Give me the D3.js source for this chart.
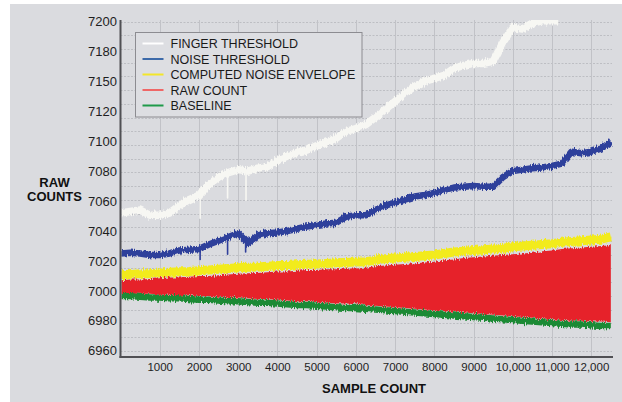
<!DOCTYPE html>
<html>
<head>
<meta charset="utf-8">
<script src="https://cdn.jsdelivr.net/npm/d3@7"></script>
<style>
  html, body { margin: 0; padding: 0; background: #ffffff; }
  svg { display: block; font-family: "Liberation Sans", Arial, Helvetica, sans-serif; }
</style>
</head>
<body>
<svg id="chart" width="622" height="402"></svg>
<script>
// ---- axis labels ----
const yTickLabels = [6960, 6980, 7000, 7020, 7040, 7060, 7080, 7100, 7120, 7150, 7180, 7200];
const xTickValues = [1000, 2000, 3000, 4000, 5000, 6000, 7000, 8000, 9000, 10000, 11000, 12000];

// ---- readings, one every 250 samples ----
const sampleGrid = d3.range(0, 12501, 250);

const fingerSamples = d3.range(0, 11001, 250).concat([11160]);
const fingerThreshold = [
  7052, 7053, 7054, 7050.5, 7050.5, 7052, 7057, 7061, 7064, 7071,
  7076, 7079, 7081, 7080, 7082, 7083, 7087, 7090, 7092.5, 7094,
  7097, 7099.5, 7102, 7106.5, 7108.5, 7111, 7116, 7122, 7130, 7138,
  7145, 7150, 7153, 7156, 7163, 7166, 7168, 7168, 7170, 7186,
  7196, 7195, 7199, 7200.5, 7200.5, 7200.5
];

const noiseThreshold = [
  7025, 7025.5, 7025, 7024, 7024, 7025, 7027, 7027.5, 7028, 7031,
  7033.5, 7036, 7038.5, 7032, 7037, 7038.5, 7039, 7040, 7041.5, 7043,
  7044, 7045, 7045.5, 7049.5, 7050.5, 7050.5, 7054, 7057, 7059, 7061,
  7063, 7064, 7065.5, 7067.5, 7069, 7069.5, 7070, 7069.5, 7069.5, 7076,
  7080, 7081, 7082, 7082.5, 7083.5, 7085, 7093, 7092, 7093, 7095,
  7099.5
];

const noiseEnvelope = [
  7011, 7011, 7011.5, 7011.5, 7012, 7012.5, 7012.8, 7013, 7013.5, 7014,
  7014.5, 7015, 7015.5, 7015.7, 7016, 7016.5, 7017, 7017, 7017.5, 7017.8,
  7018, 7018.3, 7018.7, 7019, 7019.2, 7019.5, 7020.5, 7021.5, 7022, 7022.5,
  7023, 7023.5, 7024, 7025, 7026, 7026.5, 7027, 7027.5, 7028, 7028.5,
  7029.5, 7030, 7030.5, 7031, 7031.5, 7032.5, 7033, 7033.5, 7034, 7034.5,
  7036
];

const rawCountHigh = [
  7007, 7007.5, 7007.5, 7008, 7008.5, 7009, 7009, 7009.5, 7010, 7010,
  7010.5, 7011, 7011.5, 7011.7, 7012, 7012.5, 7013, 7013, 7013.5, 7014,
  7014, 7014.5, 7014.5, 7015, 7015, 7015.5, 7016.5, 7017, 7017.5, 7018,
  7018.5, 7019, 7019.5, 7020.5, 7021, 7022, 7022.5, 7023, 7023.5, 7024,
  7024.5, 7025, 7025.5, 7026.5, 7027, 7028, 7028.5, 7029, 7029.5, 7030,
  7030.5
];

const rawCountLow = [
  6998.5, 6998.5, 6998, 6998, 6997.5, 6997.5, 6997, 6997, 6996.5, 6996.5,
  6996, 6995.5, 6995.5, 6995, 6994.5, 6994.5, 6994, 6993.5, 6993, 6993,
  6992.5, 6992, 6991.5, 6991.5, 6991, 6990.5, 6990, 6989.5, 6989, 6988.5,
  6988, 6987.5, 6987, 6986.5, 6986, 6985.5, 6985, 6984.5, 6984, 6983.5,
  6983, 6982.5, 6982, 6981.5, 6981, 6980.5, 6980, 6980, 6979.5, 6979.5,
  6979
];

const baseline = [
  6996.5, 6996.5, 6996, 6995.5, 6995.5, 6995, 6995, 6994.5, 6994, 6994,
  6993.5, 6993, 6993, 6992.5, 6992, 6992, 6991.5, 6991, 6990.5, 6990.5,
  6990, 6989.5, 6989, 6988.5, 6988.5, 6988, 6987.5, 6987, 6986.5, 6986,
  6985.5, 6985, 6984.5, 6984, 6983.5, 6983, 6982.5, 6982, 6981.5, 6981,
  6980.5, 6980, 6979.5, 6979, 6978.5, 6978, 6977.5, 6977.5, 6977, 6976.5,
  6976.5
];

// short downward spikes (touch events) on the two thresholds
const fingerDipSamples = [2030, 2730, 3200];
const fingerDipTop     = [7064, 7079, 7080];
const fingerDipLow     = [7048.5, 7062, 7060.5];
const noiseDipSamples  = [2030, 2730, 3190];
const noiseDipTop      = [7028, 7036, 7036];
const noiseDipLow      = [7021, 7024.5, 7026];

// legend
const legendNames  = ["FINGER THRESHOLD", "NOISE THRESHOLD", "COMPUTED NOISE ENVELOPE", "RAW COUNT", "BASELINE"];
const legendColors = ["#ffffff", "#3d6aa9", "#f3e62a", "#ef6767", "#1f9a4a"];

// ---- layout ----
const W = 622, H = 402;
const plot = { left: 120.5, right: 612, top: 20, bottom: 357 };
const yLabelTop = 21.5, yLabelBottom = 350.7;

const svg = d3.select("#chart");

// sample-to-sample jitter texture for the noisy traces (vertical only)
const defs = svg.append("defs");
const jitter = defs.append("filter")
  .attr("id", "jitter")
  .attr("filterUnits", "userSpaceOnUse")
  .attr("x", 0).attr("y", 0).attr("width", W).attr("height", H);
jitter.append("feTurbulence")
  .attr("type", "fractalNoise")
  .attr("baseFrequency", "0.9 0.12")
  .attr("numOctaves", 2)
  .attr("seed", 7)
  .attr("result", "noise");
jitter.append("feColorMatrix")
  .attr("in", "noise")
  .attr("type", "matrix")
  .attr("values", "0 0 0 0 0.5  0 1 0 0 0  0 0 0 0 0  0 0 0 0 1")
  .attr("result", "map");
jitter.append("feDisplacementMap")
  .attr("in", "SourceGraphic")
  .attr("in2", "map")
  .attr("scale", 6)
  .attr("xChannelSelector", "R")
  .attr("yChannelSelector", "G");

svg.append("rect")
  .attr("x", 10).attr("y", 4)
  .attr("width", W - 10).attr("height", H - 4)
  .attr("fill", "#dadbdf");

const x = d3.scaleLinear().domain([0, 12530]).range([plot.left, plot.right]);

// labels sit at even spacing up the axis
const yStep = (yLabelBottom - yLabelTop) / (yTickLabels.length - 1);
const y = d3.scaleLinear()
  .domain(yTickLabels)
  .range(yTickLabels.map((d, i) => yLabelBottom - i * yStep));

// plotting grid: every 10 counts across the labelled span
const gridY = d3.scaleLinear().domain([6960, 7200]).range([yLabelBottom, yLabelTop]);
const gridValues = d3.range(6960, 7201, 10);

const grid = svg.append("g");
grid.selectAll("line.h")
  .data(gridValues)
  .join("line")
  .attr("class", "h")
  .attr("x1", plot.left).attr("x2", plot.right)
  .attr("y1", d => Math.round(gridY(d)) + 0.5)
  .attr("y2", d => Math.round(gridY(d)) + 0.5)
  .attr("stroke", "#bdbec3")
  .attr("stroke-width", 1)
  .attr("stroke-dasharray", "2,1.5");

grid.selectAll("line.v")
  .data(xTickValues)
  .join("line")
  .attr("class", "v")
  .attr("x1", d => Math.round(x(d)) + 0.5).attr("x2", d => Math.round(x(d)) + 0.5)
  .attr("y1", plot.top).attr("y2", plot.bottom)
  .attr("stroke", "#c1c2c7")
  .attr("stroke-width", 1);

// ---- series ----
svg.append("clipPath").attr("id", "plotClip")
  .append("rect")
  .attr("x", plot.left + 1).attr("y", plot.top)
  .attr("width", plot.right - plot.left)
  .attr("height", plot.bottom - plot.top - 1);

const series = svg.append("g").attr("clip-path", "url(#plotClip)");

const line = d3.line().x(d => x(d[0])).y(d => y(d[1]));
const pairs = (s, v) => s.map((d, i) => [d, v[i]]);

function drawBand(samples, values, color, width) {
  series.append("path")
    .datum(pairs(samples, values))
    .attr("d", line)
    .attr("fill", "none")
    .attr("stroke", color)
    .attr("stroke-width", width)
    .attr("stroke-linejoin", "round")
    .attr("filter", "url(#jitter)");
}

function drawDips(samples, tops, lows, color) {
  series.selectAll(null)
    .data(samples.map((s, i) => ({ s, top: tops[i], low: lows[i] })))
    .join("line")
    .attr("x1", d => x(d.s)).attr("x2", d => x(d.s))
    .attr("y1", d => y(d.top)).attr("y2", d => y(d.low))
    .attr("stroke", color)
    .attr("stroke-width", 1.6)
    .attr("stroke-linecap", "round");
}

drawBand(fingerSamples, fingerThreshold, "#f7f7f3", 7.5);
drawDips(fingerDipSamples, fingerDipTop, fingerDipLow, "#f7f7f3");

drawBand(sampleGrid, noiseThreshold, "#2f3f9b", 6.5);
drawDips(noiseDipSamples, noiseDipTop, noiseDipLow, "#2f3f9b");

drawBand(sampleGrid, baseline, "#1f8a35", 6.5);
drawBand(sampleGrid, noiseEnvelope, "#f2eb1e", 9);

const rawArea = d3.area()
  .x((d, i) => x(sampleGrid[i]))
  .y0(d => y(d[0]))
  .y1(d => y(d[1]));
series.append("path")
  .datum(rawCountLow.map((d, i) => [d, rawCountHigh[i]]))
  .attr("d", rawArea)
  .attr("fill", "#e6212a")
  .attr("filter", "url(#jitter)");

// ---- axes ----
const yAxis = d3.axisLeft(y)
  .tickValues(yTickLabels)
  .tickFormat(d => String(d))
  .tickSize(0)
  .tickPadding(3.5);
const gy = svg.append("g").attr("transform", `translate(${plot.left},0)`).call(yAxis);
gy.select(".domain").remove();
gy.selectAll("text")
  .attr("font-size", 13)
  .attr("font-family", "Liberation Sans, Arial, sans-serif")
  .attr("fill", "#1e1e1e");

const xAxis = d3.axisBottom(x)
  .tickValues(xTickValues)
  .tickFormat(d => d >= 10000 ? d3.format(",")(d) : String(d))
  .tickSize(0)
  .tickPadding(6.3);
const gx = svg.append("g").attr("transform", `translate(0,${plot.bottom})`).call(xAxis);
gx.select(".domain").remove();
gx.selectAll("text")
  .attr("font-size", 11.5)
  .attr("font-family", "Liberation Sans, Arial, sans-serif")
  .attr("fill", "#1e1e1e");

// axis rules
svg.append("line")
  .attr("x1", plot.left).attr("x2", plot.left)
  .attr("y1", plot.top).attr("y2", plot.bottom + 1)
  .attr("stroke", "#505054").attr("stroke-width", 2);
svg.append("line")
  .attr("x1", plot.left - 1).attr("x2", plot.right + 1)
  .attr("y1", plot.bottom).attr("y2", plot.bottom)
  .attr("stroke", "#505054").attr("stroke-width", 2);

// ---- titles ----
svg.append("text")
  .attr("x", 54.5).attr("y", 186.5)
  .attr("text-anchor", "middle")
  .attr("font-size", 13).attr("font-weight", "bold")
  .attr("fill", "#111")
  .selectAll("tspan")
  .data(["RAW", "COUNTS"])
  .join("tspan")
  .attr("x", 54.5)
  .attr("dy", (d, i) => i === 0 ? 0 : 14)
  .text(d => d);

svg.append("text")
  .attr("x", 374).attr("y", 392.5)
  .attr("text-anchor", "middle")
  .attr("font-size", 13).attr("font-weight", "bold")
  .attr("fill", "#111")
  .text("SAMPLE COUNT");

// ---- legend ----
const legend = svg.append("g");
legend.append("rect")
  .attr("x", 135.5).attr("y", 32.5)
  .attr("width", 226.5).attr("height", 84.5)
  .attr("fill", "#dddee2")
  .attr("stroke", "#8c8c91")
  .attr("stroke-width", 1);

const rows = legend.selectAll("g.row")
  .data(legendNames)
  .join("g")
  .attr("class", "row")
  .attr("transform", (d, i) => `translate(0,${48 + i * 15.5})`);

rows.append("line")
  .attr("x1", 142.5).attr("x2", 163.5)
  .attr("y1", -4.5).attr("y2", -4.5)
  .attr("stroke", (d, i) => legendColors[i])
  .attr("stroke-width", 2);

rows.append("text")
  .attr("x", 170.5).attr("y", 0)
  .attr("font-size", 12.5)
  .attr("fill", "#1a1a1a")
  .text(d => d);
</script>
</body>
</html>
